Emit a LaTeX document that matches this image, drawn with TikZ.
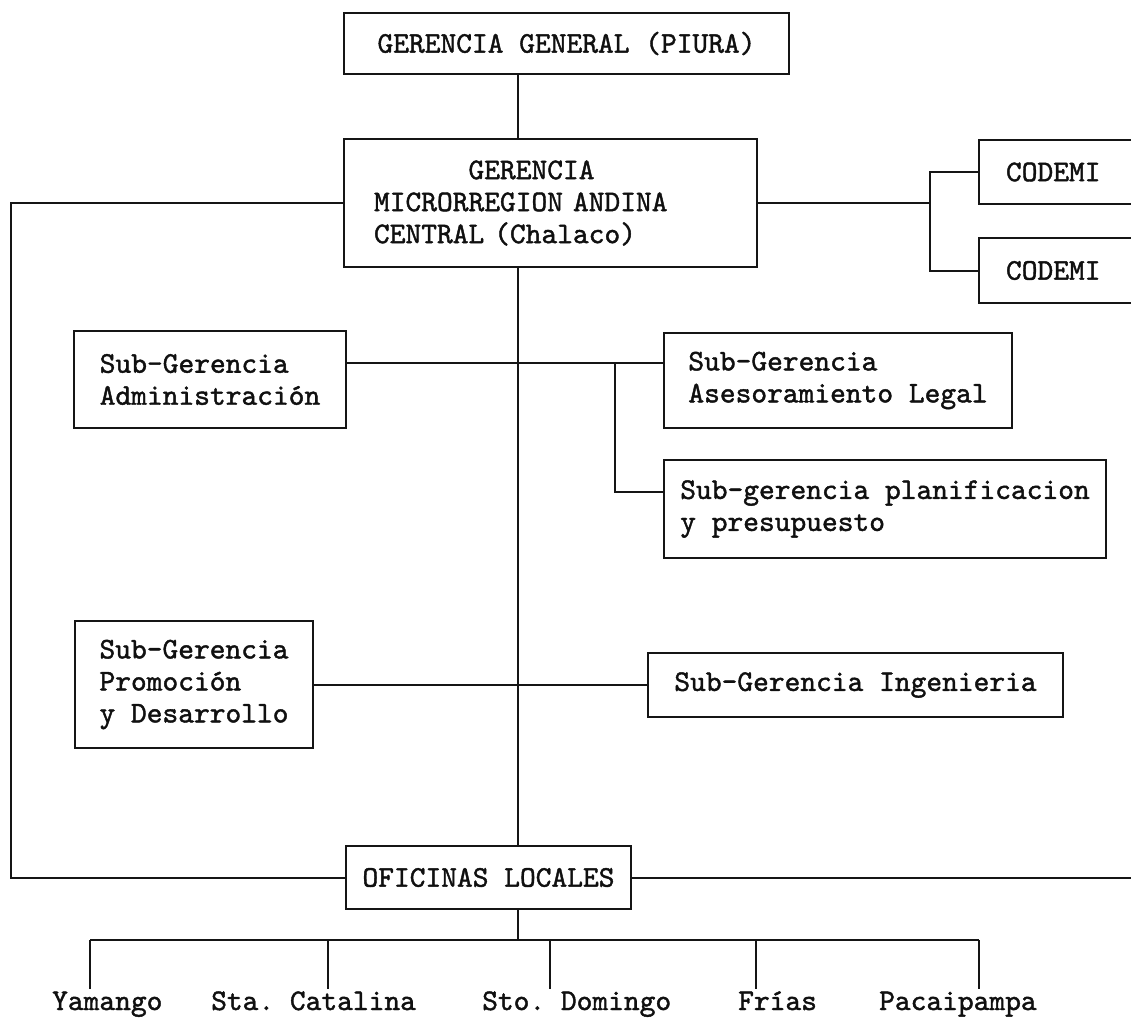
\documentclass[tikz,border=0pt]{standalone}
\usepackage{fontspec}
\setmonofont{lmmono10-regular.otf}[FakeBold=1.4]
\usepackage{xcolor,tikz}
\usetikzlibrary{positioning,calc}
\definecolor{orgLine}{HTML}{151515}
\definecolor{orgText}{HTML}{101010}
\newcommand{\orgfont}{\ttfamily\frenchspacing\fontsize{30}{32}\selectfont}

\tikzset{
  orgbox/.style={draw=orgLine, line width=2pt, font=\orgfont, text=orgText,
    align=left, inner sep=0pt, anchor=north west},
  orglink/.style={draw=orgLine, line width=2pt},
  placename/.style={font=\orgfont, text=orgText, anchor=base west, inner sep=2pt},
}

\begin{document}
\begin{tikzpicture}[x=1pt, y=-1pt]

% --- PAGE ---
\clip (0,0) rectangle (1131,1018);
\fill[white] (0,0) rectangle (1131,1018);

% --- PARAMETERS ---
\coordinate (trunk) at (518,0);   % main vertical line
\coordinate (leftX) at (11,0);    % outer left return line
\coordinate (forkC) at (930,0);   % CODEMI fork
\coordinate (edgeR) at (1140,0);  % line leaving the page
\coordinate (rowA)  at (0,363);   % first row of sub-offices
\coordinate (rowP)  at (0,492);   % branch to planificacion
\coordinate (forkP) at (615,363);
\coordinate (bar)   at (0,940);   % bar above the local offices

% --- BOXES ---
\node[orgbox, minimum width=445pt, minimum height=61pt] (gg) at (343,12)
  {GERENCIA GENERAL (PIURA)};
\node[orgbox, text width=353pt, inner xsep=30pt, minimum height=128pt] (gm) at (343,138)
  {\phantom{MICROR}GERENCIA\\MICRORREGION ANDINA\\CENTRAL (Chalaco)};
\node[orgbox, text width=140pt, inner xsep=27pt, minimum height=64pt] (cd1) at (978,139)
  {CODEMI};
\node[orgbox, text width=140pt, inner xsep=27pt, minimum height=65pt] (cd2) at (978,237)
  {CODEMI};
\node[orgbox, minimum width=272pt, minimum height=97pt] (adm) at (73,330)
  {Sub-Gerencia\\Administración};
\node[orgbox, minimum width=348pt, minimum height=95pt] (ase) at (663,332)
  {Sub-Gerencia\\Asesoramiento Legal};
\node[orgbox, minimum width=442pt, minimum height=98pt] (pla) at (663,459)
  {Sub-gerencia planificacion\\y presupuesto};
\node[orgbox, minimum width=238pt, minimum height=127pt] (pro) at (74,620)
  {Sub-Gerencia\\Promoción\\y Desarrollo};
\node[orgbox, minimum width=415pt, minimum height=64pt] (ing) at (647,652)
  {Sub-Gerencia Ingenieria};
\node[orgbox, minimum width=285pt, minimum height=63pt] (ofi) at (345,845)
  {OFICINAS LOCALES};

% --- TRUNK ---
\draw[orglink] (gg.south -| trunk) -- (gm.north -| trunk);
\draw[orglink] (gm.south -| trunk) -- (ofi.north -| trunk);
\draw[orglink] (gm.west) -- (gm.west -| leftX) -- (ofi.west -| leftX) -- (ofi.west);
\draw[orglink] (ofi.east) -- (ofi.east -| edgeR);

% --- CODEMI ---
\draw[orglink] (gm.east) -- (gm.east -| forkC);
\draw[orglink] (cd1.west) -- (cd1.west -| forkC) -- (cd2.west -| forkC) -- (cd2.west);

% --- SUB-GERENCIAS ---
\draw[orglink] (adm.east |- rowA) -- (ase.west |- rowA);
\draw[orglink] (forkP) |- (pla.west |- rowP);
\draw[orglink] (pro.east) -- (ing.west |- pro.east);

% --- OFICINAS LOCALES ---
\draw[orglink] (ofi.south -| trunk) -- (trunk |- bar);
\foreach \dx/\lx/\name [count=\i] in
  {90/50/Yamango, 328/209/Sta. Catalina, 550/480/Sto. Domingo,
   756/736/Frías, 979/877/Pacaipampa} {
  \coordinate (drop\i) at (\dx,940);
  \node[placename] (place\i) at (\lx,1010) {\name};
  \draw[orglink] (drop\i) -- (drop\i |- place\i.north);
}
\draw[orglink] (drop1) -- (drop5);

\end{tikzpicture}
\end{document}
